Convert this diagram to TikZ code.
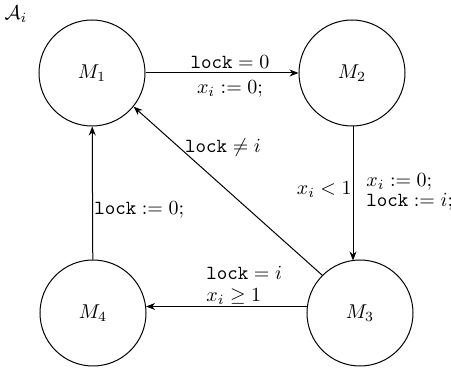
\documentclass[tikz,border=0pt]{standalone}
\usetikzlibrary{arrows.meta}
\begin{document}
\begin{tikzpicture}[x=0.5pt,y=-0.5pt,
  state/.style={draw,circle,minimum size=53pt,inner sep=0pt,line width=0.5pt},
  arr/.style={-{Stealth[length=4.5pt,width=3.5pt]},line width=0.5pt},
  lbl/.style={inner sep=0pt}]
\useasboundingbox (0,0) rectangle (451,374);
\node[lbl] (A) at (16,14) {$\mathcal{A}_i$};
\node[state] (M1) at (92,73) {$M_1$};
\node[state] (M2) at (352,73) {$M_2$};
\node[state] (M3) at (360,313) {$M_3$};
\node[state] (M4) at (93,313) {$M_4$};
\draw[arr] (M1) -- (M2);
\coordinate (m3top) at (353,260.5);
\draw[arr] (M2.south -| m3top) -- (m3top);
\draw[arr] (M4) -- (M1);
\draw[arr] (M3.135) -- (M1.-39);
\draw[arr] (M3.173) -- (M4.7);
\node[lbl] (l1) at (230,62) {$\mathtt{lock}=0$};
\node[lbl] (l2) at (230,89) {$x_i:=0;$};
\node[lbl] (l3) at (223,148) {$\mathtt{lock}\neq i$};
\node[lbl,anchor=east] (l4) at (352,190) {$x_i<1$};
\node[lbl,anchor=west] (l5) at (366,182) {$x_i:=0;$};
\node[lbl,anchor=west] (l6) at (366,202) {$\mathtt{lock}:=i;$};
\node[lbl,anchor=west] (l7) at (94,210) {$\mathtt{lock}:=0;$};
\node[lbl,anchor=west] (l8) at (206,273) {$\mathtt{lock}=i$};
\node[lbl,anchor=west] (l9) at (206,297) {$x_i\geq 1$};
\end{tikzpicture}
\end{document}
